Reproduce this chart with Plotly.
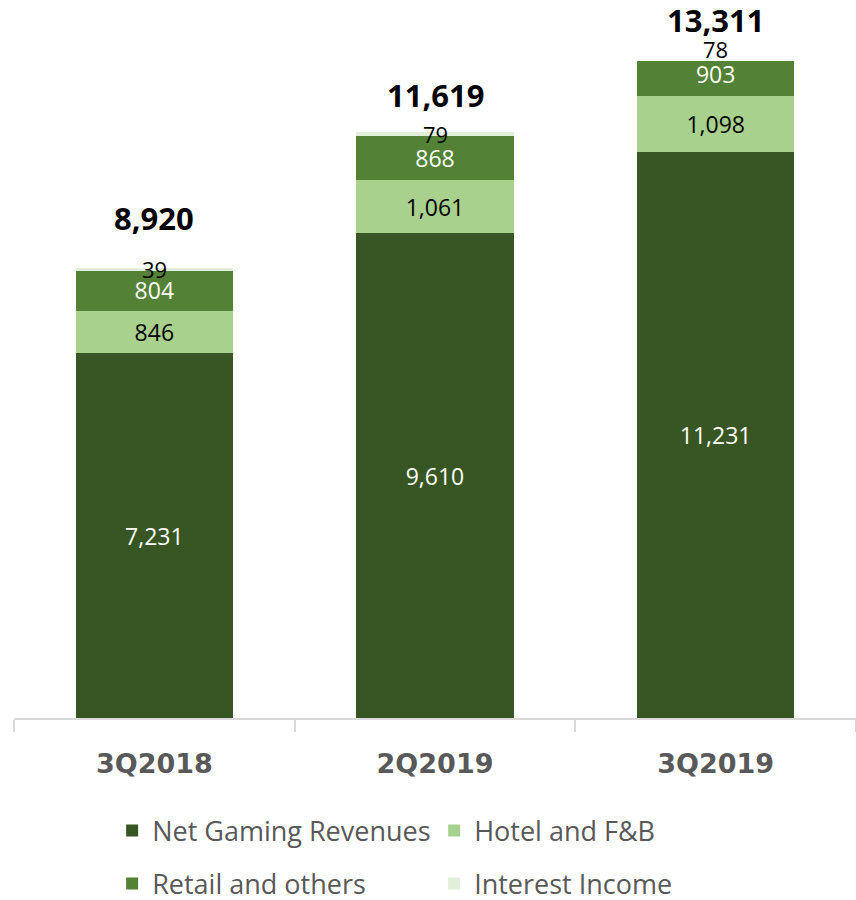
import plotly.graph_objects as go

# Quarterly revenue breakdown (MOP millions)
quarters = ["3Q2018", "2Q2019", "3Q2019"]
net_gaming = [7231, 9610, 11231]
hotel_fb = [846, 1061, 1098]
retail_others = [804, 868, 903]
interest_income = [39, 79, 78]
totals = [8920, 11619, 13311]

Y_MAX = 13030
FONT = "Open Sans"
GREY = "#595959"

# name, values, fill, label colour, legend row
series = [
    ("Net Gaming Revenues", net_gaming, "#375623", "white", "legend"),
    ("Hotel and F&B", hotel_fb, "#A9D18E", "black", "legend"),
    ("Retail and others", retail_others, "#538135", "white", "legend2"),
    ("Interest Income", interest_income, "#E2EFDA", "black", "legend2"),
]

fig = go.Figure()
for i, (name, vals, color, txt_color, leg) in enumerate(series):
    show_text = i < 3
    fig.add_trace(go.Bar(
        name=name,
        x=quarters,
        y=vals,
        legend=leg,
        marker=dict(color=color, line=dict(width=0)),
        text=[f"{v:,}" for v in vals] if show_text else None,
        textposition="inside" if show_text else "none",
        insidetextanchor="middle",
        textangle=0,
        textfont=dict(family=FONT, size=23, color=txt_color),
    ))

# Small interest-income labels sit on top of each stack
annotations = []
for qi, q in enumerate(quarters):
    base = net_gaming[qi] + hotel_fb[qi] + retail_others[qi]
    mid = base + interest_income[qi] / 2
    annotations.append(dict(
        x=q, xref="x", y=mid / Y_MAX, yref="paper",
        text=f"{interest_income[qi]:,}", showarrow=False,
        yanchor="middle", font=dict(family=FONT, size=22, color="black"),
    ))

# Bold totals above each stack
total_offsets = [50, 37, 27]
for qi, q in enumerate(quarters):
    annotations.append(dict(
        x=q, xref="x", y=totals[qi] / Y_MAX, yref="paper",
        text=f"<b>{totals[qi]:,}</b>", showarrow=False,
        yanchor="middle", yshift=total_offsets[qi],
        font=dict(family=FONT, size=31, color="black"),
    ))

legend_style = dict(
    orientation="h",
    xref="container", yref="container",
    x=0.131, xanchor="left",
    yanchor="middle",
    entrywidth=277,
    traceorder="normal",
    font=dict(family=FONT, size=27, color=GREY),
    itemclick=False,
    bgcolor="rgba(0,0,0,0)",
)

fig.update_layout(
    width=856, height=900,
    margin=dict(l=14, r=0, t=61, b=182),
    barmode="stack",
    bargap=0.44,
    plot_bgcolor="white",
    paper_bgcolor="white",
    annotations=annotations,
    showlegend=True,
    legend=dict(legend_style, y=1 - 831 / 900),
    legend2=dict(legend_style, y=1 - 884 / 900),
    xaxis=dict(
        showline=True, linecolor="#D9D9D9", linewidth=1.5,
        ticks="outside", tickson="boundaries", ticklen=12,
        tickcolor="#D9D9D9", tickwidth=1.5,
        ticklabelstandoff=21,
        tickfont=dict(family="DejaVu Sans", size=27, color=GREY, weight="bold"),
        showgrid=False,
    ),
    yaxis=dict(range=[0, Y_MAX], visible=False, showgrid=False),
)

fig.write_html("out.html")
